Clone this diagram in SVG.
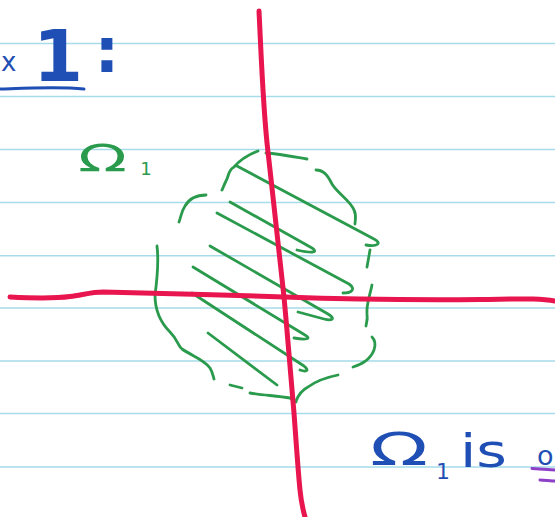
<svg xmlns="http://www.w3.org/2000/svg" width="555" height="517" viewBox="0 0 555 517">
<style>
.rule{stroke:#a6dbea;stroke-width:1.5;fill:none}
.red{stroke:#e8154f;stroke-width:5;fill:none;stroke-linecap:round;stroke-linejoin:round}
.grn{stroke:#2a9a4c;stroke-width:2.8;fill:none;stroke-linecap:round;stroke-linejoin:round}
.blue{fill:#1f4fb4;font-family:"DejaVu Sans",sans-serif}
.blueline{stroke:#1f4fb4;stroke-width:3;fill:none;stroke-linecap:round}
.green{fill:#2a9a4c;font-family:"DejaVu Sans",sans-serif}
.purple{stroke:#8e3fc8;stroke-width:3;fill:none;stroke-linecap:round}
</style>
<rect width="555" height="517" fill="#ffffff"/>
<g id="paper">
<line class="rule" x1="0" y1="43.5" x2="555" y2="43.5"/>
<line class="rule" x1="0" y1="96.5" x2="555" y2="96.5"/>
<line class="rule" x1="0" y1="149.5" x2="555" y2="149.5"/>
<line class="rule" x1="0" y1="202.5" x2="555" y2="202.5"/>
<line class="rule" x1="0" y1="255.7" x2="555" y2="255.7"/>
<line class="rule" x1="0" y1="308" x2="555" y2="308"/>
<line class="rule" x1="0" y1="361" x2="555" y2="361"/>
<line class="rule" x1="0" y1="413.5" x2="555" y2="413.5"/>
<line class="rule" x1="0" y1="467" x2="555" y2="467"/>
</g>
<g id="title">
<text class="blue" x="1" y="71" font-size="26">x</text>
<text class="blue" x="58" y="81" font-size="72" font-weight="bold" text-anchor="middle">1</text>
<text class="blue" x="107" y="72" font-size="62" font-weight="bold" text-anchor="middle">:</text>
<path class="blueline" d="M0,89 C30,88 60,86.5 84,89"/>
</g>
<g id="region">
<path class="grn" d="M258,151 C250,154 240,160 234,167 C228,170 229,176 226,181 C224,185 223,188 222,190"/>
<path class="grn" d="M266,153 C280,154 295,157 307,159"/>
<path class="grn" d="M316,170 C324,170 328,176 332,184 C338,194 350,200 354,210 C357,216 355,220 355,224"/>
<path class="grn" d="M206,195 C196,195 189,199 185,206 C181,212 181,217 179,222"/>
<path class="grn" d="M157,246 C159,262 157,280 155,295 C155,310 160,322 170,332 C178,340 178,346 182,349 C192,356 205,360 210,368 C213,373 213,376 214,379"/>
<path class="grn" d="M230,385 L242,388"/>
<path class="grn" d="M250,393 C262,395 278,396 290,398 L296,402" stroke-width="3.4"/>
<path class="grn" d="M296,401 C298,396 302,390 308,387 C316,381 328,377 338,375"/>
<path class="grn" d="M353,367 C362,364 370,360 374,350 C376,344 375,340 372,337"/>
<path class="grn" d="M372,285 C370,295 366,305 367,314 C368,320 366,324 366,326"/>
<path class="grn" d="M370,250 L367,267"/>
<path class="grn" d="M237,166 L374,239 C382,243 378,247 366,245"/>
<path class="grn" d="M230,202 L312,248 C318,252 314,254 297,250"/>
<path class="grn" d="M217,213 L349,284 C356,289 352,293 343,293"/>
<path class="grn" d="M210,246 L328,314 C336,319 332,321 324,319 L298,312"/>
<path class="grn" d="M193,267 L305,335 C312,339 306,340 294,338"/>
<path class="grn" d="M192,293 L304,366 C310,371 306,372 300,370"/>
<path class="grn" d="M208,333 L277,385"/>
<text class="green" x="78" y="171" font-size="38" textLength="49" lengthAdjust="spacingAndGlyphs">Ω</text>
<text class="green" x="146" y="175" font-size="18" text-anchor="middle">1</text>
</g>
<g id="axes">
<path class="red" d="M259,11 C261,50 263,110 268,152 C274,205 280,260 284,297 C288,340 292,390 294,413 C296,440 298,470 300,490 C301,500 303,510 305,517"/>
<path class="red" d="M10,297 C30,298 55,298.5 70,296.5 C82,295 92,292 103,292 C150,293 230,295 284,297 C340,299 420,300 480,299.5 C520,299 540,298 555,301"/>
</g>
<g id="note">
<text class="blue" x="370" y="465" font-size="44" textLength="58" lengthAdjust="spacingAndGlyphs">Ω</text>
<text class="blue" x="443" y="479" font-size="22" text-anchor="middle">1</text>
<text class="blue" x="460" y="467" font-size="46" textLength="47" lengthAdjust="spacingAndGlyphs">is</text>
<text class="blue" x="537" y="465" font-size="27">o</text>
<path class="purple" d="M532,468.5 C540,469 548,469.5 555,470"/>
<path class="purple" d="M540,480 C546,480.5 551,481 555,481"/>
</g>
</svg>
